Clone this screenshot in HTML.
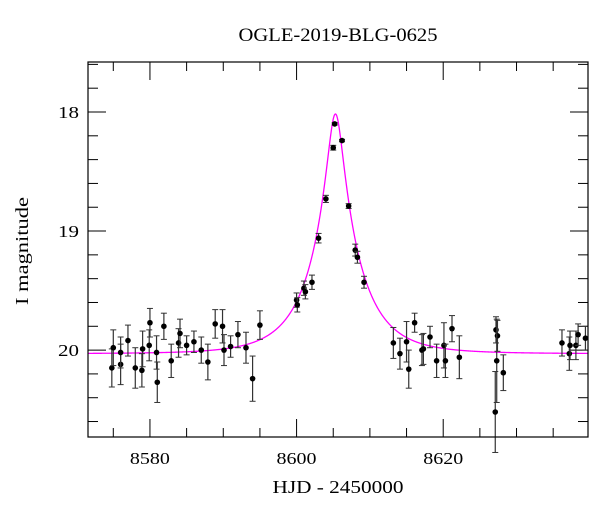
<!DOCTYPE html>
<html><head><meta charset="utf-8"><style>
body{margin:0;background:#fff}
svg{display:block;font-family:"Liberation Serif",serif}
</style></head><body>
<svg id="chart" width="600" height="512">
<text x="338" y="41" font-size="19" text-anchor="middle" textLength="199" lengthAdjust="spacingAndGlyphs">OGLE-2019-BLG-0625</text>
<text x="338" y="493" font-size="18" text-anchor="middle" textLength="131" lengthAdjust="spacingAndGlyphs">HJD - 2450000</text>
<text x="0" y="0" font-size="18" text-anchor="middle" textLength="108" lengthAdjust="spacingAndGlyphs" transform="translate(28,251) rotate(-90)">I magnitude</text>
<g id="axes"></g>
<g id="model"></g>
<g id="points"></g>
<rect x="88" y="62" width="500" height="375" fill="none" stroke="#000" stroke-width="1.2"/>
</svg>
<script>
const hjd=[8574.8,8575.0,8576.0,8576.0,8577.0,8578.0,8578.9,8579.0,8580.0,8579.9,8580.9,8581.0,8581.9,8582.9,8583.9,8584.1,8585.0,8586.0,8587.0,8587.9,8588.9,8589.9,8590.1,8591.0,8592.0,8593.1,8594.0,8595.0,
8600.0,8600.1,8601.0,8601.2,8602.1,8603.0,8604.0,8605.0,8605.2,8606.2,8607.1,8608.0,8608.3,8609.2,
8613.2,8614.1,8615.0,8615.3,8616.1,8617.1,8617.3,8618.2,8619.1,8620.1,8620.3,8621.2,8622.2,8627.1,8627.2,8627.4,8627.3,8628.2,8636.2,8637.2,8637.3,8638.1,8638.4,8639.4];
const mag=[20.15,19.98,20.12,20.02,19.92,20.15,20.17,19.99,19.77,19.96,20.02,20.27,19.80,20.09,19.94,19.86,19.96,19.93,20.00,20.10,19.78,19.80,20.00,19.97,19.87,19.98,20.24,19.79,
19.58,19.62,19.48,19.51,19.43,19.06,18.73,18.30,18.10,18.24,18.79,19.16,19.22,19.43,
19.94,20.03,19.93,20.16,19.77,20.00,19.99,19.89,20.09,19.96,20.09,19.82,20.06,20.52,19.83,19.88,20.09,20.19,19.94,20.03,19.96,19.96,19.87,19.90];
const err=[0.16,0.15,0.17,0.13,0.13,0.17,0.14,0.15,0.12,0.13,0.14,0.17,0.11,0.14,0.12,0.12,0.08,0.09,0.11,0.15,0.12,0.14,0.13,0.09,0.11,0.13,0.19,0.12,
0.06,0.06,0.06,0.06,0.06,0.04,0.03,0.02,0.01,0.01,0.02,0.05,0.05,0.05,
0.13,0.13,0.17,0.16,0.08,0.13,0.13,0.09,0.14,0.19,0.14,0.11,0.18,0.34,0.11,0.13,0.35,0.15,0.11,0.14,0.12,0.12,0.09,0.1];
const xTicks=[8580,8600,8620];
const yTicks=[18,19,20];
const model={t0:8605.3,u0:0.158,tE:6.5,base:20.03};
const X0=8571.55,X1=8639.75,Y0=17.58,Y1=20.73,L=88,R=588,T=62,B=437;
const sx=v=>L+(v-X0)/(X1-X0)*(R-L);
const sy=v=>T+(v-Y0)/(Y1-Y0)*(B-T);
const NS='http://www.w3.org/2000/svg';
function mk(tag,at,parent){const e=document.createElementNS(NS,tag);for(const k in at)e.setAttribute(k,at[k]);parent.appendChild(e);return e;}
const ax=document.getElementById('axes');
for(let v=8575;v<=X1;v+=5){
 const x=sx(v);const maj=xTicks.includes(v);const len=maj?18:9;
 const t1=mk('line',{x1:x,x2:x,y1:B,y2:B-len,stroke:'#000','stroke-width':1},ax);
 
 
 const t2=mk('line',{x1:x,x2:x,y1:T,y2:T+len,stroke:'#000','stroke-width':1},ax);
 
 
 if(maj){const t=mk('text',{x:x,y:B+27,'font-size':17,'text-anchor':'middle',textLength:40,lengthAdjust:'spacingAndGlyphs'},ax);t.textContent=v;
 
 }
}
for(let i=0;i<=15;i++){
 const v=17.6+i*0.2;if(v>Y1)break;const y=sy(v);
 const maj=yTicks.some(t=>Math.abs(t-v)<1e-6);const len=maj?18:10;
 const t1=mk('line',{x1:L,x2:L+len,y1:y,y2:y,stroke:'#000','stroke-width':1},ax);
 
 
 const t2=mk('line',{x1:R,x2:R-len,y1:y,y2:y,stroke:'#000','stroke-width':1},ax);
 
 
 if(maj){const t=mk('text',{x:L-9,y:y+6,'font-size':17,'text-anchor':'end',textLength:21,lengthAdjust:'spacingAndGlyphs'},ax);t.textContent=Math.round(v);
 
 }
}
let d='';
for(let t=X0;t<=X1;t+=0.05){
 const u=Math.sqrt(model.u0**2+((t-model.t0)/model.tE)**2);
 const A=(u*u+2)/(u*Math.sqrt(u*u+4));
 const m=model.base-2.5*Math.log10(A);
 d+=(d?'L':'M')+sx(t).toFixed(2)+','+Math.max(T,sy(m)).toFixed(2);
}
const p=mk('path',{d:d,fill:'none',stroke:'#ff00ff','stroke-width':1.3},document.getElementById('model'));


const pg=document.getElementById('points');
hjd.forEach((t,i)=>{
 const x=sx(t),y=sy(mag[i]),y1=sy(mag[i]-err[i]),y2=sy(mag[i]+err[i]);
 const g=mk('g',{},pg);
 
 
 mk('line',{x1:x,x2:x,y1:y1,y2:y2,stroke:'#333','stroke-width':1.2},g);
 mk('line',{x1:x-3,x2:x+3,y1:y1,y2:y1,stroke:'#333','stroke-width':1},g);
 mk('line',{x1:x-3,x2:x+3,y1:y2,y2:y2,stroke:'#333','stroke-width':1},g);
 mk('circle',{cx:x,cy:y,r:2.8,fill:'#000'},g);
});
</script>
</body></html>
